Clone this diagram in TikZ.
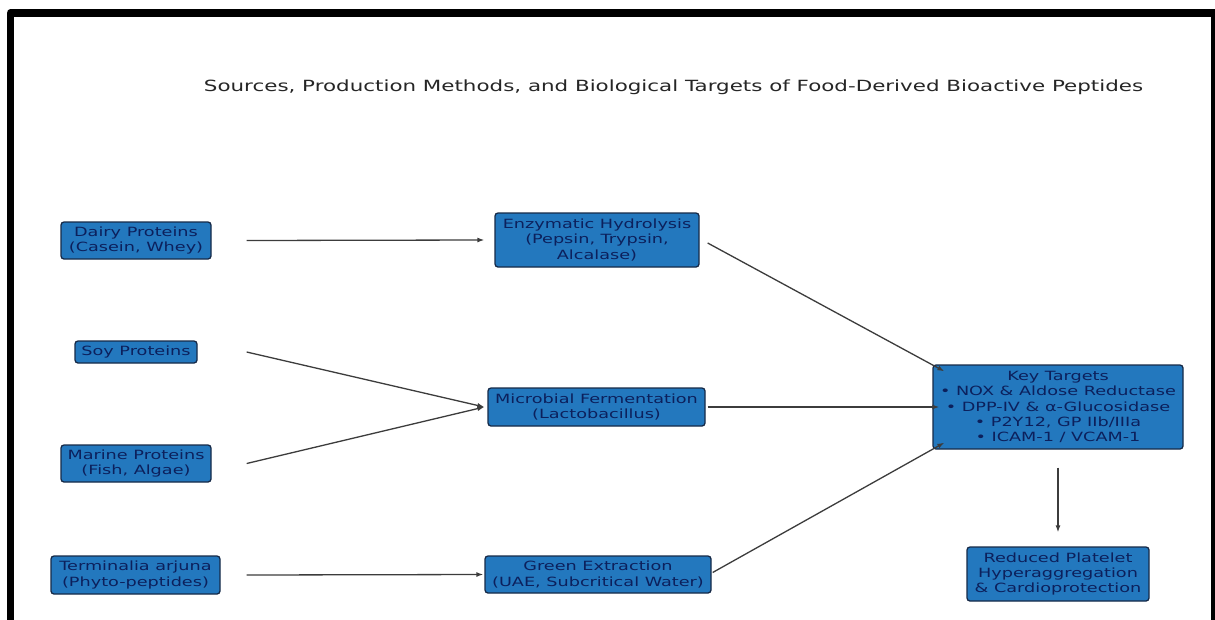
\documentclass[tikz,border=0pt]{standalone}
\usepackage{fontspec}
\setmainfont{DejaVu Sans}[FakeStretch=1.39]
\usetikzlibrary{arrows.meta}
\definecolor{boxfill}{RGB}{35,120,190}
\definecolor{boxtext}{RGB}{12,32,92}
\definecolor{boxline}{RGB}{22,42,72}
\definecolor{arrowcol}{RGB}{60,60,60}
\tikzset{
  pbox/.style={draw=boxline, line width=1.3pt, fill=boxfill, rounded corners=3pt,
    text=boxtext, align=center, inner sep=0pt,
    font=\fontsize{12.7}{15.2}\selectfont},
  arr/.style={draw=arrowcol, line width=1.3pt, -{Latex[length=7pt,width=5pt]}},
}
\begin{document}
\begin{tikzpicture}[x=1pt,y=-1pt]
\useasboundingbox (0,0) rectangle (1215,619);
\fill[white] (0,0) rectangle (1215,619);
% frame
\draw[line width=7.5pt, line join=round] (10.5,640) -- (10.5,13) -- (1214.5,13) -- (1214.5,640);
% title
\node[text=black!85] (title) at (673.5,87) {\fontsize{15.4}{18}\selectfont Sources, Production Methods, and Biological Targets of Food-Derived Bioactive Peptides};
% sources
\node[pbox, minimum width=150, minimum height=37] (dairy) at (136,240.5) {Dairy Proteins\\(Casein, Whey)};
\node[pbox, minimum width=122, minimum height=22] (soy) at (136,352) {Soy Proteins};
\node[pbox, minimum width=150, minimum height=37] (marine) at (136,463.5) {Marine Proteins\\(Fish, Algae)};
\node[pbox, minimum width=169, minimum height=38] (term) at (135.5,575) {Terminalia arjuna\\(Phyto-peptides)};
% methods
\node[pbox, minimum width=204, minimum height=54] (enz) at (597,240) {Enzymatic Hydrolysis\\(Pepsin, Trypsin,\\Alcalase)};
\node[pbox, minimum width=217, minimum height=38] (mic) at (596.5,407) {Microbial Fermentation\\(Lactobacillus)};
\node[pbox, minimum width=226, minimum height=37] (green) at (598,574.5) {Green Extraction\\(UAE, Subcritical Water)};
% targets
\node[pbox, minimum width=250, minimum height=84] (key) at (1058,407) {Key Targets\\• NOX \& Aldose Reductase\\• DPP-IV \& α-Glucosidase\\• P2Y12, GP IIb/IIIa\\• ICAM-1 / VCAM-1};
\node[pbox, minimum width=182, minimum height=54] (red) at (1058,574) {Reduced Platelet\\Hyperaggregation\\\& Cardioprotection};
% connectors
\draw[arr] ([shift={(35,0)}]dairy.east) -- ([shift={(-10,0)}]enz.west);
\draw[arr] ([shift={(49,0)}]soy.east) -- ([shift={(-3,0)}]mic.west);
\draw[arr] ([shift={(35,0)}]marine.east) -- ([shift={(-3,0)}]mic.west);
\draw[arr] ([shift={(26,0)}]term.east) -- ([shift={(-1,0)}]green.west);
\draw[arr] ([shift={(8,3)}]enz.east) -- ([shift={(12,7)}]key.north west);
\draw[arr] ([shift={(2,0)}]mic.east) -- ([shift={(7,0)}]key.west);
\draw[arr] ([shift={(1,-2)}]green.east) -- ([shift={(12,-7)}]key.south west);
\draw[arr] ([shift={(0,18)}]key.south) -- ([shift={(0,-14)}]red.north);
\end{tikzpicture}
\end{document}
